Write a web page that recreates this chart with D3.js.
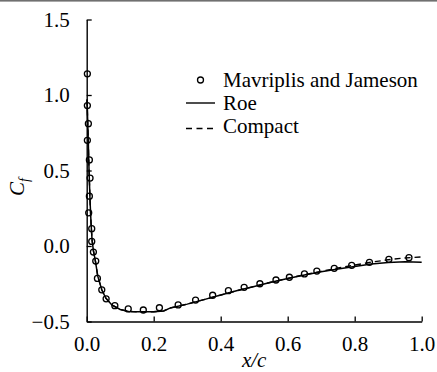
<!DOCTYPE html>
<html>
<head>
<meta charset="utf-8">
<script src="https://cdn.jsdelivr.net/npm/d3@7/dist/d3.min.js"></script>
<style>
  body { margin: 0; background: #fff; }
  svg { display: block; }
  svg text { font-family: "Liberation Serif", "Times New Roman", Times, "DejaVu Serif", serif; }
</style>
</head>
<body>
<div class="graph"></div>
<script>
// Mavriplis and Jameson reference points (x/c, Cf)
var refX = [0.002, 0.002, 0.005, 0.002, 0.008, 0.010, 0.008, 0.006, 0.015, 0.015, 0.020, 0.027,
  0.032, 0.045, 0.058, 0.084, 0.124, 0.169, 0.217, 0.273, 0.325, 0.376, 0.423, 0.470, 0.517,
  0.565, 0.605, 0.650, 0.687, 0.739, 0.791, 0.844, 0.902, 0.962];
var refCf = [1.14, 0.93, 0.81, 0.70, 0.57, 0.45, 0.33, 0.22, 0.115, 0.03, -0.04, -0.10,
  -0.215, -0.29, -0.35, -0.395, -0.417, -0.424, -0.409, -0.39, -0.358, -0.326, -0.296, -0.274, -0.25,
  -0.225, -0.207, -0.185, -0.166, -0.148, -0.128, -0.108, -0.088, -0.077];

// Roe solution
var roeX = [0.001, 0.004, 0.007, 0.010, 0.013, 0.016, 0.020, 0.026, 0.033, 0.045, 0.057, 0.075,
  0.10, 0.125, 0.15, 0.20, 0.23, 0.25, 0.30, 0.35, 0.40, 0.45, 0.50, 0.55, 0.60, 0.65, 0.70,
  0.75, 0.80, 0.85, 0.90, 0.95, 1.00];
var roeCf = [0.97, 0.75, 0.50, 0.30, 0.15, 0.04, -0.03, -0.10, -0.20, -0.29, -0.345, -0.39,
  -0.42, -0.433, -0.436, -0.435, -0.43, -0.41, -0.385, -0.355, -0.325, -0.295, -0.268, -0.24,
  -0.215, -0.192, -0.17, -0.152, -0.135, -0.12, -0.109, -0.104, -0.108];

// Compact scheme solution
var compactX = roeX;
var compactCf = [0.97, 0.75, 0.50, 0.30, 0.15, 0.04, -0.03, -0.10, -0.20, -0.29, -0.345, -0.39,
  -0.42, -0.433, -0.436, -0.435, -0.43, -0.41, -0.385, -0.355, -0.325, -0.295, -0.268, -0.24,
  -0.215, -0.19, -0.168, -0.146, -0.126, -0.107, -0.091, -0.079, -0.072];

var xTicks = [0.0, 0.2, 0.4, 0.6, 0.8, 1.0];
var yTicks = [-0.5, 0.0, 0.5, 1.0, 1.5];
var legendLabels = ['Mavriplis and Jameson', 'Roe', 'Compact'];

var width = 437, height = 372;
var mLeft = 86.7, mRight = 421.7, mTop = 19.5, mBottom = 321.5;

var svg = d3.select('.graph').append('svg')
  .attr('width', width)
  .attr('height', height);

// thin grey strip at the very top
svg.append('rect')
  .attr('x', 0).attr('y', 0)
  .attr('width', width).attr('height', 1.6)
  .attr('fill', '#707070');

var x = d3.scaleLinear().domain([0, 1]).range([mLeft, mRight]);
var y = d3.scaleLinear().domain([-0.5, 1.5]).range([mBottom, mTop]);

var fmt = d3.format('.1f');

// x axis, ticks pointing up
var xaxis = svg.append('g')
  .attr('transform', 'translate(0,' + mBottom + ')')
  .call(d3.axisBottom(x).tickValues(xTicks).tickSize(-5).tickSizeOuter(0).tickPadding(15).tickFormat(fmt));

// y axis, ticks pointing right
var yaxis = svg.append('g')
  .attr('transform', 'translate(' + mLeft + ',0)')
  .call(d3.axisLeft(y).tickValues(yTicks).tickSize(-5).tickSizeOuter(0).tickPadding(17).tickFormat(fmt));

[xaxis, yaxis].forEach(function (ax) {
  ax.attr('font-family', null);
  ax.select('.domain').attr('stroke', '#000').attr('stroke-width', 1.4);
  ax.selectAll('.tick line').attr('stroke', '#000').attr('stroke-width', 1.3);
  ax.selectAll('.tick text')
    .attr('fill', '#000')
    .style('font-size', '21px');
});

var line = d3.line()
  .x(function (d) { return x(d[0]) })
  .y(function (d) { return y(d[1]) });

svg.append('path')
  .datum(d3.zip(compactX, compactCf))
  .attr('d', line)
  .attr('fill', 'none')
  .attr('stroke', '#000')
  .attr('stroke-width', 1.4)
  .attr('stroke-dasharray', '6,4');

svg.append('path')
  .datum(d3.zip(roeX, roeCf))
  .attr('d', line)
  .attr('fill', 'none')
  .attr('stroke', '#000')
  .attr('stroke-width', 1.5);

svg.append('g').selectAll('circle')
  .data(d3.zip(refX, refCf))
  .enter().append('circle')
  .attr('cx', function (d) { return x(d[0]) })
  .attr('cy', function (d) { return y(d[1]) })
  .attr('r', 3)
  .attr('fill', 'none')
  .attr('stroke', '#000')
  .attr('stroke-width', 1.3);

// axis titles
svg.append('text')
  .attr('x', (mLeft + mRight) / 2)
  .attr('y', 367)
  .attr('text-anchor', 'middle')
  .style('font-size', '21px')
  .style('font-style', 'italic')
  .text('x/c');

var ylab = svg.append('text')
  .attr('text-anchor', 'middle')
  .attr('transform', 'translate(24,187)rotate(-90)')
  .style('font-size', '21px')
  .style('font-style', 'italic');
ylab.append('tspan').text('C');
ylab.append('tspan').attr('dy', 5).style('font-size', '14px').text('f');

// legend
var legend = svg.append('g');
var lx = 186, lx2 = 215, tx = 223, rowY = [80, 103, 126];

legend.append('circle')
  .attr('cx', (lx + lx2) / 2).attr('cy', rowY[0])
  .attr('r', 3).attr('fill', 'none').attr('stroke', '#000').attr('stroke-width', 1.3);
legend.append('line')
  .attr('x1', lx).attr('x2', lx2).attr('y1', rowY[1]).attr('y2', rowY[1])
  .attr('stroke', '#000').attr('stroke-width', 1.4);
legend.append('line')
  .attr('x1', lx).attr('x2', lx2).attr('y1', rowY[2] + 2.5).attr('y2', rowY[2] + 2.5)
  .attr('stroke', '#000').attr('stroke-width', 1.4).attr('stroke-dasharray', '6,4.5');

legend.selectAll('text')
  .data(legendLabels)
  .enter().append('text')
  .attr('x', tx)
  .attr('y', function (d, i) { return rowY[i] + 7 })
  .style('font-size', '21px')
  .text(function (d) { return d });
</script>
</body>
</html>
